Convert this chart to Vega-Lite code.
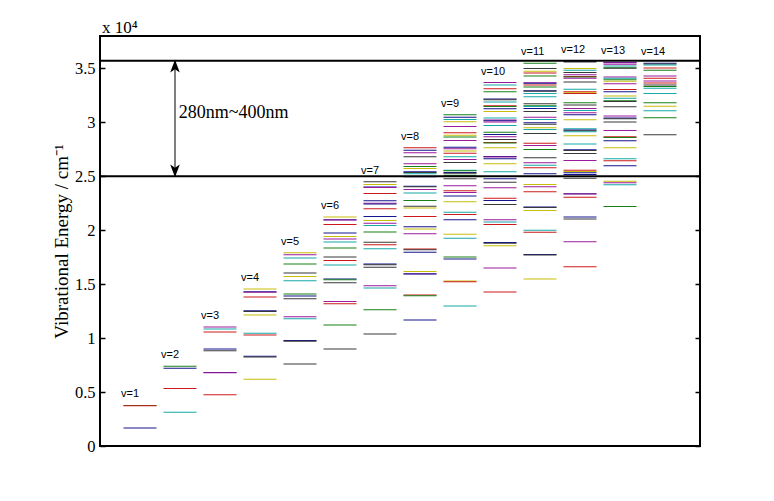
{
  "$schema": "https://vega.github.io/schema/vega-lite/v6.json",
  "width": 600,
  "height": 410,
  "autosize": {"type": "none"},
  "padding": {"left": 100, "top": 36, "right": 74, "bottom": 55},
  "background": "white",
  "config": {
    "view": {"stroke": "black", "strokeWidth": 2},
    "axis": {"grid": false, "domain": false}
  },
  "title": {"text": "x 10⁴", "anchor": "start", "frame": "group", "offset": 5, "dy": 19, "dx": 2, "font": "Liberation Serif", "fontSize": 17, "fontWeight": "normal", "color": "black", "baseline": "alphabetic"},
  "datasets": {
    "levels": [
      {"v":1,"E":3760,"s":2},{"v":1,"E":3730,"s":3},{"v":1,"E":1670,"s":1},
      {"v":2,"E":7400,"s":2},{"v":2,"E":7215,"s":1},{"v":2,"E":5320,"s":3},{"v":2,"E":3130,"s":4},
      {"v":3,"E":11020,"s":5},{"v":3,"E":10840,"s":4},{"v":3,"E":10560,"s":3},{"v":3,"E":8980,"s":1},{"v":3,"E":8820,"s":7},{"v":3,"E":6820,"s":1},{"v":3,"E":6800,"s":5},{"v":3,"E":4740,"s":3},
      {"v":4,"E":14550,"s":6},{"v":4,"E":14290,"s":1},{"v":4,"E":14250,"s":5},{"v":4,"E":13810,"s":3},{"v":4,"E":12530,"s":1},{"v":4,"E":12470,"s":7},{"v":4,"E":12140,"s":6},{"v":4,"E":10460,"s":4},{"v":4,"E":10280,"s":3},{"v":4,"E":8320,"s":1},{"v":4,"E":8260,"s":7},{"v":4,"E":6190,"s":6},
      {"v":5,"E":17920,"s":6},{"v":5,"E":17730,"s":5},{"v":5,"E":17430,"s":4},{"v":5,"E":16870,"s":2},{"v":5,"E":16030,"s":7},{"v":5,"E":15720,"s":6},{"v":5,"E":15320,"s":4},{"v":5,"E":14090,"s":2},{"v":5,"E":13900,"s":1},{"v":5,"E":13650,"s":7},{"v":5,"E":11980,"s":5},{"v":5,"E":11790,"s":4},{"v":5,"E":9780,"s":1},{"v":5,"E":9720,"s":7},{"v":5,"E":7590,"s":7},
      {"v":6,"E":21230,"s":6},{"v":6,"E":20980,"s":1},{"v":6,"E":20940,"s":5},{"v":6,"E":20520,"s":3},{"v":6,"E":19750,"s":1},{"v":6,"E":19410,"s":6},{"v":6,"E":19190,"s":5},{"v":6,"E":18910,"s":4},{"v":6,"E":18360,"s":2},{"v":6,"E":17520,"s":7},{"v":6,"E":17200,"s":3},{"v":6,"E":16780,"s":4},{"v":6,"E":15470,"s":1},{"v":6,"E":15410,"s":2},{"v":6,"E":15130,"s":7},{"v":6,"E":13400,"s":5},{"v":6,"E":13180,"s":3},{"v":6,"E":11210,"s":2},{"v":6,"E":8980,"s":7},
      {"v":7,"E":24480,"s":7},{"v":7,"E":24230,"s":6},{"v":7,"E":24000,"s":1},{"v":7,"E":23960,"s":5},{"v":7,"E":23400,"s":3},{"v":7,"E":22720,"s":1},{"v":7,"E":22500,"s":5},{"v":7,"E":22440,"s":1},{"v":7,"E":21980,"s":3},{"v":7,"E":21260,"s":1},{"v":7,"E":20890,"s":6},{"v":7,"E":20640,"s":5},{"v":7,"E":20430,"s":4},{"v":7,"E":19840,"s":2},{"v":7,"E":18880,"s":7},{"v":7,"E":18660,"s":3},{"v":7,"E":18290,"s":4},{"v":7,"E":16860,"s":1},{"v":7,"E":16800,"s":7},{"v":7,"E":16560,"s":7},{"v":7,"E":14860,"s":5},{"v":7,"E":14640,"s":4},{"v":7,"E":12630,"s":2},{"v":7,"E":10370,"s":7},
      {"v":8,"E":27640,"s":3},{"v":8,"E":27420,"s":1},{"v":8,"E":27180,"s":5},{"v":8,"E":26810,"s":7},{"v":8,"E":26160,"s":5},{"v":8,"E":25910,"s":2},{"v":8,"E":25720,"s":6},{"v":8,"E":25410,"s":1},{"v":8,"E":25350,"s":7},{"v":8,"E":25230,"s":4},{"v":8,"E":24950,"s":1},{"v":8,"E":24080,"s":1},{"v":8,"E":24020,"s":7},{"v":8,"E":23770,"s":5},{"v":8,"E":23460,"s":4},{"v":8,"E":22750,"s":2},{"v":8,"E":22220,"s":7},{"v":8,"E":22070,"s":6},{"v":8,"E":21260,"s":3},{"v":8,"E":20310,"s":1},{"v":8,"E":20120,"s":6},{"v":8,"E":19680,"s":5},{"v":8,"E":18260,"s":3},{"v":8,"E":18200,"s":7},{"v":8,"E":17950,"s":1},{"v":8,"E":16180,"s":6},{"v":8,"E":15970,"s":5},{"v":8,"E":15940,"s":1},{"v":8,"E":13990,"s":3},{"v":8,"E":13930,"s":2},{"v":8,"E":11670,"s":1},
      {"v":9,"E":30710,"s":2},{"v":9,"E":30480,"s":1},{"v":9,"E":30270,"s":4},{"v":9,"E":30060,"s":6},{"v":9,"E":29620,"s":5},{"v":9,"E":29030,"s":3},{"v":9,"E":28810,"s":6},{"v":9,"E":28630,"s":2},{"v":9,"E":28320,"s":5},{"v":9,"E":27700,"s":1},{"v":9,"E":27550,"s":5},{"v":9,"E":27330,"s":6},{"v":9,"E":27140,"s":3},{"v":9,"E":26810,"s":4},{"v":9,"E":26560,"s":5},{"v":9,"E":26280,"s":7},{"v":9,"E":25560,"s":4},{"v":9,"E":25500,"s":2},{"v":9,"E":25340,"s":1},{"v":9,"E":25290,"s":7},{"v":9,"E":25100,"s":2},{"v":9,"E":24760,"s":7},{"v":9,"E":24110,"s":5},{"v":9,"E":23650,"s":3},{"v":9,"E":23490,"s":5},{"v":9,"E":23180,"s":1},{"v":9,"E":22630,"s":6},{"v":9,"E":21660,"s":4},{"v":9,"E":21450,"s":3},{"v":9,"E":20980,"s":1},{"v":9,"E":19620,"s":6},{"v":9,"E":19250,"s":4},{"v":9,"E":17520,"s":2},{"v":9,"E":17330,"s":1},{"v":9,"E":15290,"s":6},{"v":9,"E":15230,"s":3},{"v":9,"E":12970,"s":4},
      {"v":10,"E":33680,"s":5},{"v":10,"E":33450,"s":4},{"v":10,"E":33120,"s":3},{"v":10,"E":32840,"s":2},{"v":10,"E":32160,"s":1},{"v":10,"E":32100,"s":7},{"v":10,"E":31880,"s":4},{"v":10,"E":31530,"s":3},{"v":10,"E":31470,"s":2},{"v":10,"E":31260,"s":1},{"v":10,"E":31010,"s":6},{"v":10,"E":30390,"s":4},{"v":10,"E":30210,"s":5},{"v":10,"E":30150,"s":1},{"v":10,"E":30020,"s":5},{"v":10,"E":29710,"s":4},{"v":10,"E":29090,"s":2},{"v":10,"E":28880,"s":1},{"v":10,"E":28660,"s":5},{"v":10,"E":28410,"s":7},{"v":10,"E":28140,"s":3},{"v":10,"E":28080,"s":2},{"v":10,"E":27640,"s":6},{"v":10,"E":26840,"s":1},{"v":10,"E":26780,"s":5},{"v":10,"E":26620,"s":1},{"v":10,"E":26160,"s":6},{"v":10,"E":25410,"s":4},{"v":10,"E":24760,"s":1},{"v":10,"E":24450,"s":7},{"v":10,"E":23930,"s":5},{"v":10,"E":22960,"s":3},{"v":10,"E":22750,"s":1},{"v":10,"E":22380,"s":7},{"v":10,"E":20960,"s":5},{"v":10,"E":20770,"s":4},{"v":10,"E":20520,"s":3},{"v":10,"E":18850,"s":1},{"v":10,"E":18790,"s":7},{"v":10,"E":18570,"s":6},{"v":10,"E":16500,"s":5},{"v":10,"E":14270,"s":3},
      {"v":11,"E":35470,"s":2},{"v":11,"E":34980,"s":7},{"v":11,"E":34730,"s":6},{"v":11,"E":34570,"s":3},{"v":11,"E":34290,"s":2},{"v":11,"E":33670,"s":5},{"v":11,"E":33610,"s":1},{"v":11,"E":33450,"s":3},{"v":11,"E":33270,"s":2},{"v":11,"E":32930,"s":1},{"v":11,"E":32870,"s":7},{"v":11,"E":32680,"s":4},{"v":11,"E":32380,"s":4},{"v":11,"E":31730,"s":7},{"v":11,"E":31530,"s":2},{"v":11,"E":31470,"s":4},{"v":11,"E":31290,"s":1},{"v":11,"E":31010,"s":7},{"v":11,"E":30480,"s":5},{"v":11,"E":30270,"s":4},{"v":11,"E":29960,"s":1},{"v":11,"E":29810,"s":7},{"v":11,"E":29500,"s":6},{"v":11,"E":29340,"s":4},{"v":11,"E":28970,"s":7},{"v":11,"E":28070,"s":3},{"v":11,"E":27860,"s":5},{"v":11,"E":27490,"s":2},{"v":11,"E":26710,"s":7},{"v":11,"E":26250,"s":5},{"v":11,"E":26030,"s":4},{"v":11,"E":25780,"s":3},{"v":11,"E":25230,"s":1},{"v":11,"E":24230,"s":6},{"v":11,"E":24020,"s":5},{"v":11,"E":23560,"s":3},{"v":11,"E":22160,"s":1},{"v":11,"E":22100,"s":7},{"v":11,"E":21820,"s":6},{"v":11,"E":19990,"s":4},{"v":11,"E":19810,"s":3},{"v":11,"E":17760,"s":1},{"v":11,"E":17700,"s":7},{"v":11,"E":15480,"s":6},
      {"v":12,"E":35660,"s":1},{"v":12,"E":35600,"s":7},{"v":12,"E":34980,"s":6},{"v":12,"E":34820,"s":4},{"v":12,"E":34610,"s":7},{"v":12,"E":34420,"s":5},{"v":12,"E":34250,"s":3},{"v":12,"E":34210,"s":2},{"v":12,"E":34080,"s":5},{"v":12,"E":33730,"s":7},{"v":12,"E":33060,"s":4},{"v":12,"E":32840,"s":3},{"v":12,"E":32750,"s":6},{"v":12,"E":32660,"s":3},{"v":12,"E":31820,"s":2},{"v":12,"E":31600,"s":7},{"v":12,"E":31290,"s":5},{"v":12,"E":31100,"s":4},{"v":12,"E":30890,"s":5},{"v":12,"E":30710,"s":1},{"v":12,"E":30240,"s":6},{"v":12,"E":29410,"s":4},{"v":12,"E":29280,"s":1},{"v":12,"E":29220,"s":7},{"v":12,"E":29130,"s":4},{"v":12,"E":28760,"s":6},{"v":12,"E":27980,"s":4},{"v":12,"E":27450,"s":1},{"v":12,"E":27390,"s":7},{"v":12,"E":27110,"s":7},{"v":12,"E":26460,"s":5},{"v":12,"E":25560,"s":3},{"v":12,"E":25440,"s":6},{"v":12,"E":25320,"s":1},{"v":12,"E":25160,"s":1},{"v":12,"E":24820,"s":7},{"v":12,"E":23390,"s":1},{"v":12,"E":23350,"s":5},{"v":12,"E":23050,"s":3},{"v":12,"E":21230,"s":1},{"v":12,"E":21050,"s":7},{"v":12,"E":18940,"s":5},{"v":12,"E":16620,"s":3},
      {"v":13,"E":35550,"s":1},{"v":13,"E":35510,"s":5},{"v":13,"E":35380,"s":5},{"v":13,"E":35220,"s":4},{"v":13,"E":35060,"s":2},{"v":13,"E":35000,"s":7},{"v":13,"E":34200,"s":5},{"v":13,"E":34080,"s":4},{"v":13,"E":33950,"s":2},{"v":13,"E":33800,"s":6},{"v":13,"E":33580,"s":5},{"v":13,"E":33030,"s":3},{"v":13,"E":32840,"s":1},{"v":13,"E":32430,"s":6},{"v":13,"E":32240,"s":4},{"v":13,"E":32000,"s":2},{"v":13,"E":31940,"s":7},{"v":13,"E":31450,"s":7},{"v":13,"E":30580,"s":5},{"v":13,"E":30390,"s":1},{"v":13,"E":30330,"s":7},{"v":13,"E":30020,"s":7},{"v":13,"E":29250,"s":5},{"v":13,"E":28660,"s":3},{"v":13,"E":28600,"s":2},{"v":13,"E":28290,"s":1},{"v":13,"E":27640,"s":6},{"v":13,"E":26620,"s":4},{"v":13,"E":26430,"s":3},{"v":13,"E":25970,"s":1},{"v":13,"E":24540,"s":6},{"v":13,"E":24390,"s":5},{"v":13,"E":24210,"s":4},{"v":13,"E":22190,"s":2},
      {"v":14,"E":35470,"s":1},{"v":14,"E":35410,"s":7},{"v":14,"E":35310,"s":4},{"v":14,"E":35030,"s":3},{"v":14,"E":34820,"s":2},{"v":14,"E":34290,"s":5},{"v":14,"E":34080,"s":3},{"v":14,"E":33830,"s":5},{"v":14,"E":33640,"s":3},{"v":14,"E":33450,"s":7},{"v":14,"E":33330,"s":2},{"v":14,"E":33150,"s":4},{"v":14,"E":32680,"s":4},{"v":14,"E":31820,"s":2},{"v":14,"E":31500,"s":6},{"v":14,"E":31080,"s":4},{"v":14,"E":30430,"s":2},{"v":14,"E":28850,"s":7}
    ],
    "bounds": [{"E": 25000}, {"E": 35714}],
    "arrow": [{"x": 1.875, "lo": 25000, "hi": 35714}],
    "note": [{"x": 1.97, "E": 30830, "text": "280nm~400nm"}]
  },
  "layer": [
    {
      "data": {"name": "levels"},
      "mark": {"type": "tick", "orient": "horizontal", "size": 33, "thickness": 1, "opacity": 1},
      "encoding": {
        "x": {"field": "v", "type": "quantitative", "scale": {"domain": [0, 15], "nice": false, "zero": false}, "axis": null},
        "y": {"field": "E", "type": "quantitative", "scale": {"domain": [0, 38000], "nice": false},
          "axis": {"orient": "left", "values": [0,5000,10000,15000,20000,25000,30000,35000], "labelExpr": "datum.value/10000", "tickSize": -5, "tickColor": "black", "tickWidth": 1.5, "labelFont": "Liberation Serif", "labelFontSize": 16.5, "labelColor": "black", "labelPadding": 10, "title": "Vibrational Energy / cm⁻¹", "titleFont": "Liberation Serif", "titleFontSize": 19, "titleFontWeight": "normal", "titleColor": "black", "titlePadding": 3}},
        "color": {"field": "s", "type": "nominal", "scale": {"domain": [1,2,3,4,5,6,7], "range": ["#14148c", "#178017", "#cc1a1a", "#17a8a8", "#9c1a9c", "#c8bc0a", "#383838"]}, "legend": null}
      }
    },
    {
      "data": {"name": "levels"},
      "transform": [
        {"aggregate": [{"op": "max", "field": "E", "as": "top"}], "groupby": ["v"]},
        {"calculate": "'v=' + datum.v", "as": "label"}
      ],
      "mark": {"type": "text", "align": "left", "baseline": "alphabetic", "dx": -19, "dy": -8, "font": "Liberation Sans", "fontSize": 11, "color": "black"},
      "encoding": {
        "x": {"field": "v", "type": "quantitative"},
        "y": {"field": "top", "type": "quantitative",
          "axis": {"orient": "right", "values": [0,5000,10000,15000,20000,25000,30000,35000], "labels": false, "tickSize": -5, "tickColor": "black", "tickWidth": 1.5, "title": null}},
        "text": {"field": "label"}
      }
    },
    {
      "data": {"name": "bounds"},
      "mark": {"type": "rule", "color": "black", "strokeWidth": 2},
      "encoding": {"y": {"field": "E", "type": "quantitative", "axis": null}}
    },
    {
      "data": {"name": "arrow"},
      "mark": {"type": "rule", "color": "black", "strokeWidth": 1},
      "encoding": {
        "x": {"field": "x", "type": "quantitative"},
        "y": {"field": "lo", "type": "quantitative", "axis": null},
        "y2": {"field": "hi"}
      }
    },
    {
      "data": {"name": "arrow"},
      "mark": {"type": "point", "shape": "M0,-1L0.6,0.6L0,0.2L-0.6,0.6Z", "filled": true, "color": "black", "opacity": 1, "size": 256, "yOffset": 7},
      "encoding": {
        "x": {"field": "x", "type": "quantitative"},
        "y": {"field": "hi", "type": "quantitative", "axis": null}
      }
    },
    {
      "data": {"name": "arrow"},
      "mark": {"type": "point", "shape": "M0,1L0.6,-0.6L0,-0.2L-0.6,-0.6Z", "filled": true, "color": "black", "opacity": 1, "size": 256, "yOffset": -7},
      "encoding": {
        "x": {"field": "x", "type": "quantitative"},
        "y": {"field": "lo", "type": "quantitative", "axis": null}
      }
    },
    {
      "data": {"name": "note"},
      "mark": {"type": "text", "align": "left", "baseline": "middle", "font": "Liberation Serif", "fontSize": 18, "color": "black"},
      "encoding": {
        "x": {"field": "x", "type": "quantitative"},
        "y": {"field": "E", "type": "quantitative", "axis": null},
        "text": {"field": "text"}
      }
    }
  ],
  "resolve": {"axis": {"y": "independent"}}
}
